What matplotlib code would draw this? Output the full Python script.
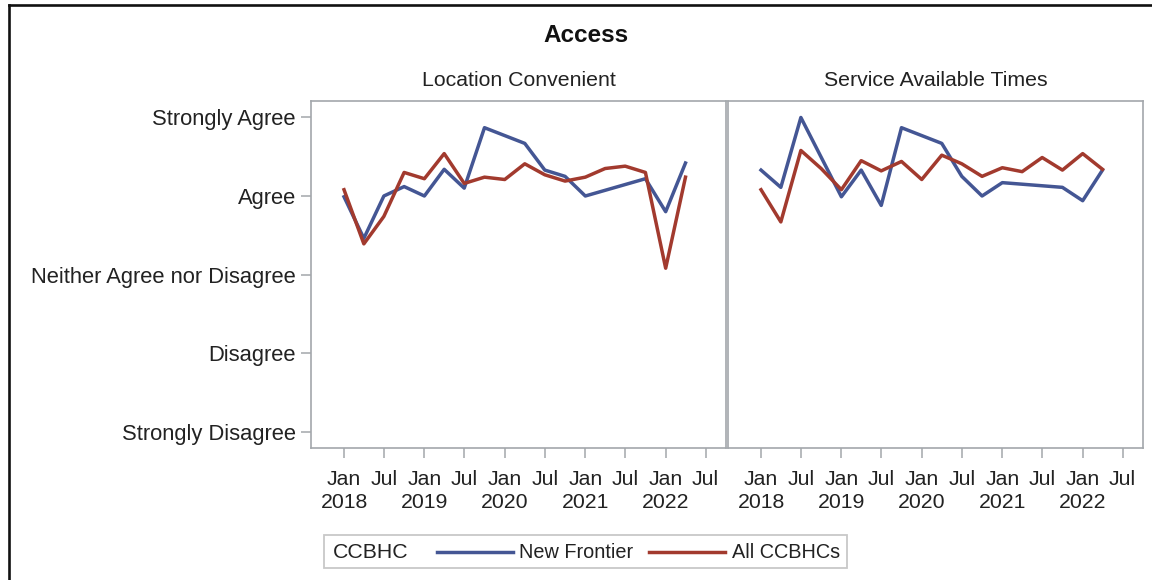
import numpy as np
import pandas as pd
import matplotlib
matplotlib.use("Agg")
import matplotlib.pyplot as plt
import matplotlib.dates as mdates
from matplotlib.lines import Line2D
from matplotlib.patches import Rectangle

plt.rcParams['font.family'] = ['Liberation Sans', 'DejaVu Sans']

# ==============================
# Data (quarterly survey means, 1 = Strongly Disagree ... 5 = Strongly Agree)
# ==============================

quarters = ["2018-01", "2018-04", "2018-07", "2018-10",
            "2019-01", "2019-04", "2019-07", "2019-10",
            "2020-01", "2020-04", "2020-07", "2020-10",
            "2021-01", "2021-04", "2021-07", "2021-10",
            "2022-01", "2022-04"]

nan = np.nan
location_new_frontier = [3.99, 3.46, 4.00, 4.12, 4.00, 4.34, 4.10, 4.87, nan,
                         4.67, 4.33, 4.25, 4.00, nan, nan, 4.22, 3.80, 4.42]
location_all = [4.08, 3.39, 3.74, 4.30, 4.22, 4.54, 4.16, 4.24, 4.21,
                4.41, 4.27, 4.19, 4.24, 4.35, 4.38, 4.30, 3.08, 4.24]

times_new_frontier = [4.33, 4.11, 5.00, nan, 3.99, 4.33, 3.88, 4.87, nan,
                      4.67, 4.25, 4.00, 4.17, nan, nan, 4.11, 3.94, 4.33]
times_all = [4.08, 3.67, 4.58, 4.35, 4.08, 4.45, 4.32, 4.44, 4.21,
             4.52, 4.41, 4.25, 4.36, 4.31, 4.49, 4.33, 4.54, 4.34]

panels = ["Location Convenient", "Service Available Times"]
series_names = ["New Frontier", "All CCBHCs"]
colors = ["#445694", "#A23A2E"]

y_ticks = [1, 2, 3, 4, 5]
y_labels = ["Strongly Disagree", "Disagree", "Neither Agree nor Disagree",
            "Agree", "Strongly Agree"]

tick_dates = ["2018-01-01", "2018-07-01", "2019-01-01", "2019-07-01",
              "2020-01-01", "2020-07-01", "2021-01-01", "2021-07-01",
              "2022-01-01", "2022-07-01"]
tick_labels = ["Jan\n2018", "Jul", "Jan\n2019", "Jul", "Jan\n2020", "Jul",
               "Jan\n2021", "Jul", "Jan\n2022", "Jul"]

# ==============================
# Figure
# ==============================

W, H = 1152, 580
fig = plt.figure(figsize=(W / 100, H / 100), dpi=100)

FS = 15.3
TXT = "#222222"
FRAME = "#A3A7AB"
LW = 2.5

dates = pd.to_datetime(quarters)
tick_pos = pd.to_datetime(tick_dates)
x0 = mdates.date2num(pd.Timestamp("2018-01-01")) - 150
x1 = mdates.date2num(pd.Timestamp("2022-07-01")) + 93

data = [(location_new_frontier, location_all), (times_new_frontier, times_all)]
lefts = [311, 728]
axes = []
for i, (left_px, title) in enumerate(zip(lefts, panels)):
    ax = fig.add_axes([left_px / W, 1 - 448 / H, 415 / W, 347 / H])
    axes.append(ax)
    for vals, name, c in zip(data[i], series_names, colors):
        s = pd.Series(vals, index=dates).dropna()
        ax.plot(s.index, s.values, color=c, lw=LW, label=name)
    ax.set_xlim(x0, x1)
    ax.set_ylim(0.79, 5.21)
    ax.set_xticks(tick_pos)
    ax.set_xticklabels(tick_labels, fontsize=FS, color=TXT, linespacing=1.22)
    ax.set_yticks(y_ticks)
    if i == 0:
        ax.set_yticklabels(y_labels, fontsize=15.8, color=TXT)
    else:
        ax.tick_params(axis="y", left=False, labelleft=False)
    ax.tick_params(direction="out", length=7, width=1.1, color=FRAME)
    ax.tick_params(axis="x", pad=9)
    ax.tick_params(axis="y", pad=4)
    for sp in ax.spines.values():
        sp.set_color(FRAME)
        sp.set_linewidth(1.2)
    ax.set_title(title, fontsize=FS, color=TXT, pad=11)

fig.text(586 / W, 1 - 35 / H, "Access", fontsize=17.5, fontweight="bold",
         color="#111111", ha="center", va="center")

# ==============================
# Legend (drawn by hand to get the SAS-style inline title)
# ==============================

def fx(px):
    return px / W

def fy(py):
    return 1 - py / H

fig.patches.append(Rectangle((fx(324), fy(568)), fx(847) - fx(324), fy(535) - fy(568),
                             transform=fig.transFigure, fill=False,
                             edgecolor="#C8C8C8", lw=1.3))
ly = fy(552)
fig.text(fx(333), ly, "CCBHC", fontsize=FS, color=TXT, va="center", ha="left")
fig.lines.append(Line2D([fx(437), fx(513)], [ly, ly], transform=fig.transFigure,
                        color=colors[0], lw=LW))
fig.text(fx(519), ly, series_names[0], fontsize=FS - 1, color=TXT, va="center", ha="left")
fig.lines.append(Line2D([fx(649), fx(725)], [ly, ly], transform=fig.transFigure,
                        color=colors[1], lw=LW))
fig.text(fx(732), ly, series_names[1], fontsize=FS - 1, color=TXT, va="center", ha="left")

# screenshot frame (black edge on top and left)
fig.lines.append(Line2D([fx(9), fx(9)], [fy(5), 0], transform=fig.transFigure,
                        color="#111111", lw=1.9))
fig.lines.append(Line2D([fx(9), 1], [fy(5), fy(5)], transform=fig.transFigure,
                        color="#111111", lw=1.9))

fig.savefig("out.png", dpi=100)
